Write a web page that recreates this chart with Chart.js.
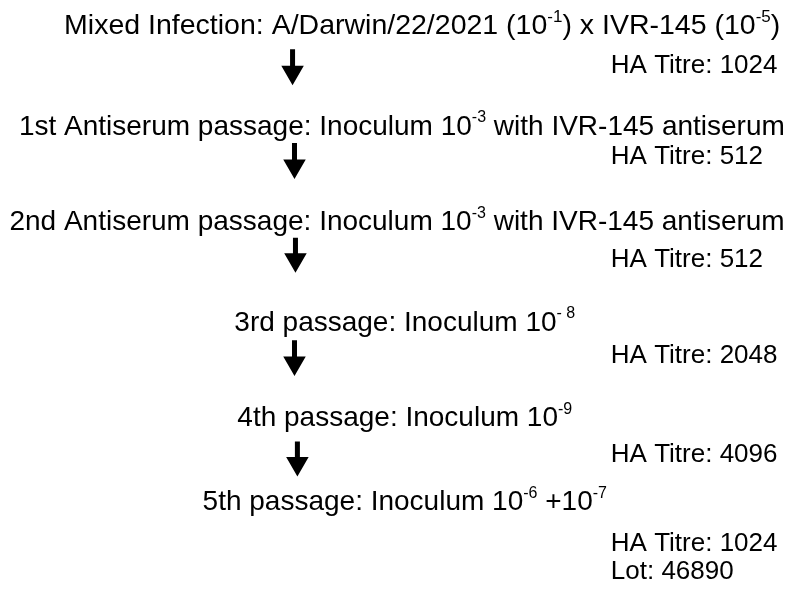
<!DOCTYPE html>
<html>
<head>
<meta charset="utf-8">
<script src="https://cdn.jsdelivr.net/npm/chart.js@4"></script>
<style>
  html, body { margin: 0; padding: 0; background: #fff; }
  #wrap { width: 796px; height: 599px; }
</style>
</head>
<body>
<div id="wrap"><canvas id="flowChart" width="796" height="599"></canvas></div>
<script>
// passage steps, each label split into normal / superscript runs
const stepLabels = [
    [['Mixed Infection: A/Darwin/22/2021 (10'], ['-1', 1], [') x IVR-145 (10'], ['-5', 1], [')']],
    [['1st Antiserum passage: Inoculum 10'], ['-3', 1], [' with IVR-145 antiserum']],
    [['2nd Antiserum passage: Inoculum 10'], ['-3', 1], [' with IVR-145 antiserum']],
    [['3rd passage: Inoculum 10'], ['- 8', 1]],
    [['4th passage: Inoculum 10'], ['-9', 1]],
    [['5th passage: Inoculum 10'], ['-6', 1], [' +10'], ['-7', 1]]
];
const haTitres = [1024, 512, 512, 2048, 4096, 1024];
const lotNumber = '46890';

// layout (canvas pixels)
const stepY = [14, 119, 219, 324, 424, 512];
const stepX = [423, 402, 397, 405, 405, 405];
const titreY = [55, 150, 258, 358, 462, 555];
const lotY = 584;
const titreX = 618;
const arrowX = [289, 291, 292, 291, 294];
const arrowTop = [38, 136, 235, 342, 448];
const arrowTip = [70, 168, 266, 374, 479];

const FONT = '"Liberation Sans", Arial, sans-serif';
const stepSize = 28;
const titreSize = 26;
const headR = 8;

const textItems = [];
stepLabels.forEach((runs, i) => {
    textItems.push({ x: stepX[i], y: stepY[i], runs: runs, align: 'center', size: i === 0 ? 28.5 : stepSize });
    textItems.push({ x: titreX, y: titreY[i], runs: [['HA Titre: ' + haTitres[i]]], align: 'left', size: titreSize });
});
textItems.push({ x: titreX, y: lotY, runs: [['Lot: ' + lotNumber]], align: 'left', size: titreSize });

const arrowSets = arrowTop.map((top, i) => ({
    data: [{ x: arrowX[i], y: top }, { x: arrowX[i], y: arrowTip[i] - headR }],
    borderColor: '#000',
    backgroundColor: '#000',
    borderWidth: 5,
    pointStyle: 'triangle',
    rotation: 180,
    pointRadius: [0, headR],
    pointHoverRadius: [0, headR],
    showLine: true
}));

const flowText = {
    id: 'flowText',
    afterDatasetsDraw(chart) {
        const ctx = chart.ctx;
        const sx = chart.scales.x, sy = chart.scales.y;
        ctx.save();
        ctx.fillStyle = '#000';
        ctx.textBaseline = 'middle';
        ctx.textAlign = 'left';
        textItems.forEach(item => {
            const parts = item.runs.map(r => {
                const sup = !!r[1];
                const f = (sup ? Math.round(item.size * 0.58) : item.size) + 'px ' + FONT;
                ctx.font = f;
                return { t: r[0], sup: sup, font: f, w: ctx.measureText(r[0]).width };
            });
            const total = parts.reduce((s, p) => s + p.w, 0);
            let px = sx.getPixelForValue(item.x);
            const py = sy.getPixelForValue(item.y);
            if (item.align === 'center') px -= total / 2;
            parts.forEach(p => {
                ctx.font = p.font;
                ctx.fillText(p.t, px, p.sup ? py - item.size * 0.33 : py);
                px += p.w;
            });
        });
        ctx.restore();
    }
};

new Chart(document.getElementById('flowChart').getContext('2d'), {
    type: 'scatter',
    data: { datasets: arrowSets },
    options: {
        responsive: false,
        animation: false,
        layout: { padding: 0 },
        plugins: { legend: { display: false }, tooltip: { enabled: false } },
        scales: {
            x: { display: false, min: 0, max: 796 },
            y: { display: false, min: 0, max: 599, reverse: true }
        }
    },
    plugins: [flowText]
});
</script>
</body>
</html>
